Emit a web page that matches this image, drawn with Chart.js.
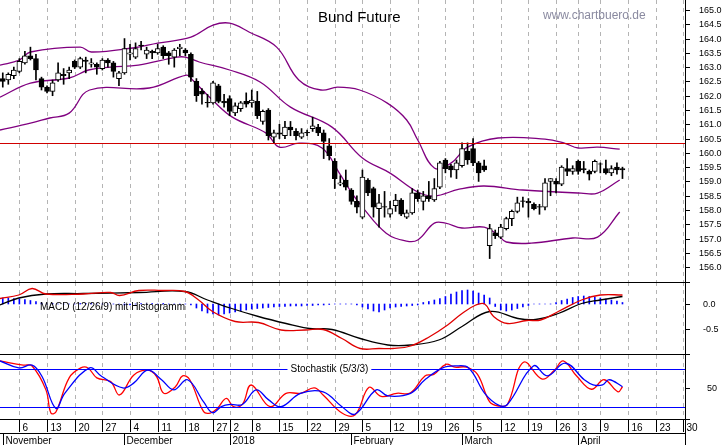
<!DOCTYPE html>
<html><head><meta charset="utf-8">
<script src="https://cdn.jsdelivr.net/npm/chart.js@4"></script>
<style>
body{margin:0;background:#fff;width:723px;height:445px;overflow:hidden;position:relative;font-family:"Liberation Sans",Arial,sans-serif}
canvas{position:absolute;left:0}
.t{position:absolute;white-space:nowrap}
</style></head><body>
<canvas id="c1" style="top:0" width="723" height="282"></canvas>
<canvas id="c2" style="top:282px" width="723" height="73"></canvas>
<canvas id="c3" style="top:355px" width="723" height="90"></canvas>
<div class="t" style="left:318px;top:8px;font-size:15px;color:#000">Bund Future</div>
<div class="t" style="left:543px;top:8px;font-size:12px;color:#8a8aa0">www.chartbuero.de</div>
<div class="t" style="left:40px;top:301px;font-size:10px;color:#000">MACD (12/26/9) mit Histogramm</div>
<script>
// trading-day index 0 = 6 Nov 2017
const startIdx = -3;
const open =  [162.6,162.55,162.7,162.85,163.15,163.4,163.3,162.6,162.3,162.15,162.55,162.75,162.8,163.2,163.0,163.25,163.1,163.1,162.95,163.25,163.15,162.6,162.8,163.45,163.35,163.75,163.45,163.55,163.5,163.7,163.5,163.35,163.65,163.6,163.45,
162.5,162.15,161.75,161.75,162.35,161.8,161.9,161.4,161.55,161.8,161.75,161.8,161.1,161.5,160.55,160.7,160.6,160.9,160.75,160.55,160.7,160.85,160.9,160.7,160.25,
159.7,158.9,159.05,158.7,158.3,157.75,159.05,158.75,158.05,158.1,157.85,158.15,158.35,157.75,157.9,158.6,158.3,158.5,158.35,158.8,159.75,159.55,159.4,159.55,160.05,160.15,159.65,159.55,
156.75,157.2,157.05,157.35,157.7,157.95,158.3,158.3,158.2,158.1,158.1,159.0,159.0,158.9,159.45,159.35,159.7,159.45,159.35,159.35,159.6,159.45,159.3,159.5,159.45];
const high =  [162.8,162.8,163.0,163.3,163.55,163.7,163.45,162.65,162.35,162.55,163.15,162.95,163.0,163.25,163.35,163.35,163.3,163.15,163.3,163.3,163.2,162.85,164.0,163.8,163.85,163.9,163.7,163.6,163.8,163.75,163.55,163.65,163.8,163.65,163.5,
162.6,162.25,162.05,162.5,162.4,162.05,162.0,161.75,161.8,162.1,162.2,162.15,161.5,161.55,160.8,161.0,161.1,161.1,160.85,160.85,160.8,161.25,161.0,160.8,160.5,
159.8,159.2,159.4,158.75,158.5,159.4,159.1,158.8,158.55,158.65,158.3,158.55,158.4,158.0,158.75,158.7,158.65,159.0,159.1,159.7,159.8,159.6,159.75,160.35,160.35,160.5,159.7,159.75,
157.5,157.3,157.5,157.75,158.0,158.45,158.45,158.4,158.25,158.2,159.1,159.1,159.1,159.55,159.8,159.55,159.75,159.7,159.4,159.75,159.65,159.75,159.55,159.65,159.5];
const low =   [162.3,162.4,162.6,162.8,163.1,163.25,162.55,162.2,162.1,162.0,162.5,162.4,162.6,162.95,162.95,162.8,163.0,162.75,162.9,163.0,162.65,162.35,162.75,163.25,163.3,163.6,163.3,163.3,163.45,163.3,163.1,163.0,163.4,163.4,162.5,
161.8,161.7,161.6,161.7,161.75,161.6,161.3,161.3,161.45,161.6,161.6,161.2,161.0,160.45,160.35,160.5,160.5,160.6,160.45,160.5,160.6,160.75,160.6,159.8,159.75,
158.75,158.85,158.7,158.2,157.9,157.7,158.5,157.75,157.4,157.75,157.75,157.95,157.8,157.7,157.85,158.3,158.0,158.3,158.3,158.75,159.3,159.15,159.1,159.5,159.6,159.55,159.0,159.35,
156.3,157.0,157.0,157.3,157.45,157.9,158.1,157.75,158.0,157.85,158.0,158.5,158.6,158.85,159.2,159.25,159.25,159.3,159.05,159.3,159.3,159.25,159.2,159.25,159.1];
const close = [162.5,162.75,162.9,163.2,163.4,163.3,162.9,162.3,162.15,162.45,162.8,162.7,162.9,163.0,163.3,163.2,163.15,163.0,163.25,163.15,162.85,162.8,163.65,163.5,163.65,163.75,163.6,163.5,163.65,163.4,163.4,163.6,163.7,163.5,162.65,
162.0,162.05,161.75,162.45,161.8,161.75,161.45,161.65,161.75,161.7,161.85,161.3,161.45,160.6,160.7,160.65,160.9,160.8,160.6,160.7,160.7,160.95,160.7,160.4,159.9,
159.1,158.95,158.8,158.3,158.1,159.15,158.6,158.1,158.25,158.1,158.05,158.35,157.85,157.9,158.6,158.4,158.5,158.4,158.75,159.65,159.45,159.4,159.65,160.15,159.75,159.65,159.3,159.4,
157.35,157.1,157.4,157.7,157.95,158.25,158.3,158.25,158.05,158.1,158.95,159.1,158.9,159.5,159.35,159.45,159.35,159.4,159.25,159.7,159.6,159.3,159.45,159.4,159.4];

const upperBand = [[-3.5,163.07],[0,163.25],[2,163.53],[11,163.7],[13,163.53],[20.5,163.67],[25,163.84],[31,164.05],[35,164.47],[38,164.54],[41.5,164.23],[46.5,163.7],[50.5,162.55],[54.5,162.2],[57.5,162.3],[61.5,162.2],[66.5,161.74],[70,161.15],[72,160.45],[75,159.47],[78,159.64],[81,160.2],[86.5,160.52],[95,160.48],[98.5,160.34],[101,160.17],[104.5,160.2],[108.5,160.13]];
const middleBand = [[-3.5,161.95],[2,162.44],[9,162.62],[12.5,162.9],[16.5,163.0],[21.5,163.07],[28.5,163.35],[30,163.35],[32.5,163.18],[38,162.9],[43.5,162.48],[49,161.6],[56.5,160.9],[62,159.82],[67,159.29],[72,158.63],[75,158.49],[79.5,158.73],[84,158.84],[91,158.7],[101.5,158.59],[104.5,158.59],[108.5,159.05]];
const lowerBand = [[-3.5,160.8],[2,161.04],[5.5,161.22],[9,161.39],[12.7,162.2],[23.5,162.27],[30.2,162.72],[31.3,162.55],[34.9,161.85],[38.5,161.25],[44.6,160.69],[47,160.2],[50.6,160.34],[54.7,160.17],[57.8,159.3],[60.1,158.59],[62,158.1],[66.3,157.19],[70,156.91],[72,156.95],[75,157.54],[77,157.54],[80,157.37],[84,157.4],[86.5,157.12],[88,156.88],[92.5,156.84],[100,157.02],[104.5,157.05],[108.5,157.93]];
const resistance = 160.33;

const macdLine = [[-3.5,0.11],[-0.1,0.18],[2.3,0.31],[4.8,0.2],[11.5,0.2],[16.5,0.23],[18.1,0.17],[21.6,0.27],[25.7,0.27],[29.9,0.25],[32.4,0.08],[34.9,-0.15],[39,-0.35],[43.2,-0.37],[47.3,-0.52],[51.7,-0.52],[54.9,-0.51],[58.3,-0.69],[61.6,-0.89],[65,-0.89],[67.5,-0.89],[70.7,-0.84],[74.2,-0.65],[77.4,-0.42],[80,-0.19],[82.5,-0.02],[84.1,0.0],[85.7,-0.25],[88.2,-0.39],[91.7,-0.33],[94.2,-0.32],[97.4,-0.15],[101.6,0.08],[105,0.18],[109,0.18]];
const signalLine = [[-3.5,-0.02],[-0.1,0.12],[4.8,0.2],[11.5,0.21],[21.6,0.23],[29.9,0.25],[34,0.08],[38.1,-0.08],[43.2,-0.25],[48.2,-0.39],[52.4,-0.49],[56.5,-0.51],[61.6,-0.69],[66.6,-0.82],[70.7,-0.82],[75.8,-0.72],[80,-0.45],[85,-0.15],[90.1,-0.29],[93.3,-0.31],[97.4,-0.19],[101.6,0.01],[105,0.08],[109,0.15]];
const macdHist = [0.12,0.12,0.11,0.1,0.09,0.07,0.05,0.02,
0,0.01,0,0,0,0,0.01,0.01,0.01,0,0,0,0,0,-0.02,-0.02,0,0.01,0,0.01,0,0.01,0,0,0,0,
-0.02,-0.08,-0.14,-0.18,-0.2,-0.22,-0.2,-0.18,-0.16,-0.14,-0.12,-0.1,-0.09,-0.08,-0.07,
-0.06,-0.05,-0.05,-0.04,-0.04,-0.04,-0.03,-0.03,-0.02,-0.02,-0.01,
0,0,0,0,
-0.02,-0.06,-0.1,-0.14,-0.16,-0.12,-0.08,-0.06,-0.05,-0.04,-0.03,-0.02,
0.03,0.05,0.08,0.11,0.15,0.2,0.24,
0.27,0.28,0.26,0.22,0.18,0.12,
-0.05,-0.12,-0.14,-0.12,-0.09,-0.06,-0.03,
0,0,0,0,0.03,
0.07,0.1,0.13,0.15,0.16,0.15,0.14,0.12,0.1,0.08,0.06,0.03];

const stochK = [[-3.5,92.6],[0.7,86],[2.3,84.7],[4.8,47],[5.7,10.5],[6.6,12],[9,66],[11.1,81.6],[12.4,81.6],[14,66],[16.5,60],[18.1,39],[20.7,70.5],[23.2,78],[24.8,68],[26.1,41.6],[28.2,52],[29.5,69],[30.8,63],[33.3,12.6],[34.5,10.5],[35.8,18],[37.4,33.7],[38.7,20.5],[40.3,24],[41.9,54.7],[45.3,20.5],[48.2,41.6],[50.8,41.6],[53.3,50],[54.9,39],[58.3,10.5],[60.7,7.8],[63.2,51],[65.4,36.8],[68.2,41.6],[70.7,42.5],[73.3,69],[74.9,71.5],[77.1,87.3],[78.7,82.8],[80.8,82.8],[82.8,71.5],[85,28],[86.6,21.6],[88.2,24],[91.1,90.5],[94.5,64],[96.7,78],[98.3,92.6],[100.8,68],[103.4,48],[105.7,63],[108.2,44],[109,52]];
const stochD = [[-3.5,92.6],[-0.1,81.6],[2.3,86],[4.1,68],[6.6,17.8],[8.2,41.6],[12.7,81.6],[14.9,68],[18.7,50],[20.7,58],[23.2,78],[25.7,63],[27.9,47],[30.4,63],[33.3,28],[34.9,11],[36.5,20.5],[38.1,24],[40.3,24],[42.8,47],[45,31.6],[47.3,20.5],[50.8,41.6],[54.9,44],[58.3,20.5],[60.7,8.9],[64.5,47],[66.6,37.4],[70.7,41.6],[73.3,63],[76.5,81.6],[78.7,84.7],[81.2,81.6],[84.1,41.6],[86.6,23],[88.2,24],[92.9,84.7],[95.4,69],[98.7,89],[102.1,63],[103.7,55],[105.4,55],[106.6,63],[109,52]];

const weekIdx = [0,5,10,15,20,25,30,35,38,42,47,52,57,62,67,72,77,82,87,92,97,101,105,110,115,120];
const weekLabels = ["6","13","20","27","4","11","18","27","2","8","15","22","29","5","12","19","26","5","12","19","26","3","9","16","23","30"];
const monthIdx = [-3,19,38,60,80,101];
const monthLabels = ["November","December","2018","February","March","April"];
const priceTicks = [156,156.5,157,157.5,158,158.5,159,159.5,160,160.5,161,161.5,162,162.5,163,163.5,164,164.5,165];

const XMIN=-3.5, XMAX=120.3;
const FONTF='"Liberation Sans",Arial,sans-serif';
Chart.defaults.animation=false;
const pts = a => a.map(p=>({x:p[0],y:p[1]}));
const idxs = open.map((_,i)=>i+startIdx);

const xScale = {type:'linear',min:XMIN,max:XMAX,display:false,offset:false};
const yScale = (min,max)=>({type:'linear',min,max,display:false});
const baseOpts = (pad,ymin,ymax)=>({responsive:false,layout:{padding:pad},
  plugins:{legend:{display:false},tooltip:{enabled:false}},scales:{x:xScale,y:yScale(ymin,ymax)}});

const deco = (id,opt)=>({id,
 beforeDatasetsDraw(c){const {ctx,chartArea:ca,scales:{x}}=c;ctx.save();
  ctx.strokeStyle='#b4b4b4';ctx.lineWidth=1;ctx.setLineDash([4,4]);
  weekIdx.forEach(v=>{const px=Math.round(x.getPixelForValue(v))+0.5;ctx.beginPath();ctx.moveTo(px,ca.top);ctx.lineTo(px,ca.bottom);ctx.stroke();});
  ctx.restore();},
 afterDatasetsDraw(c){const {ctx,chartArea:ca,scales:{x,y}}=c;ctx.save();
  (opt.hlines||[]).forEach(v=>{const py=Math.round(y.getPixelForValue(v.y))+0.5;ctx.strokeStyle=v.color;ctx.lineWidth=1;ctx.beginPath();ctx.moveTo(ca.left,py);ctx.lineTo(ca.right,py);ctx.stroke();
    if(v.label){ctx.font='10px '+FONTF;const w=ctx.measureText(v.label).width;const lx=x.getPixelForValue(v.lx);ctx.fillStyle='#fff';ctx.fillRect(lx-3,py-6,w+6,12);ctx.fillStyle='#000';ctx.textBaseline='middle';ctx.fillText(v.label,lx,py);}});
  ctx.strokeStyle='#000';ctx.lineWidth=1;ctx.beginPath();
  ctx.moveTo(ca.right+0.5,0);ctx.lineTo(ca.right+0.5,c.height);
  if(opt.top){ctx.moveTo(0,ca.top+0.5);ctx.lineTo(ca.right+5,ca.top+0.5);}
  if(opt.bottom){ctx.moveTo(0,ca.bottom-0.5);ctx.lineTo(ca.right+5,ca.bottom-0.5);}
  ctx.stroke();
  ctx.font='9px '+FONTF;ctx.fillStyle='#000';ctx.textBaseline='middle';ctx.textAlign='left';
  opt.yticks.forEach(v=>{const py=Math.round(y.getPixelForValue(v))+0.5;ctx.beginPath();ctx.moveTo(ca.right,py);ctx.lineTo(ca.right+5,py);ctx.stroke();ctx.fillText(opt.fmt(v),ca.right+(opt.lx||14),py);});
  if(opt.dates){
    ctx.font='10px '+FONTF;
    const y0=ca.bottom;ctx.textBaseline='top';
    ctx.strokeStyle='#000';
    weekIdx.forEach((v,i)=>{const px=Math.round(x.getPixelForValue(v))+0.5;
      ctx.beginPath();ctx.moveTo(px,y0);ctx.lineTo(px,y0+12);ctx.stroke();
      ctx.fillText(weekLabels[i],px+3,y0+3);});
    ctx.beginPath();ctx.moveTo(0,y0+13.5);ctx.lineTo(ca.right,y0+13.5);ctx.stroke();
    monthIdx.forEach((v,i)=>{const px=Math.round(x.getPixelForValue(v))+0.5;
      ctx.beginPath();ctx.moveTo(px,y0+14);ctx.lineTo(px,c.height);ctx.stroke();
      ctx.fillText(monthLabels[i],px+2,y0+16);});
  }
  ctx.restore();}});

new Chart(document.getElementById('c1'),{
  data:{datasets:[
    {type:'line',data:pts(upperBand),borderColor:'#800080',borderWidth:1.3,pointRadius:0,tension:0.4,order:3},
    {type:'line',data:pts(middleBand),borderColor:'#800080',borderWidth:1.3,pointRadius:0,tension:0.4,order:3},
    {type:'line',data:pts(lowerBand),borderColor:'#800080',borderWidth:1.3,pointRadius:0,tension:0.4,order:3},
    {type:'bar',data:idxs.map((x,i)=>({x,y:[low[i],high[i]]})),backgroundColor:'#000',barThickness:1,grouped:false,order:2},
    {type:'bar',data:idxs.map((x,i)=>({x,y:[open[i],close[i]===open[i]?close[i]+0.02:close[i]]})),
      backgroundColor:idxs.map((x,i)=>close[i]>open[i]?'#fff':'#000'),borderColor:'#000',borderWidth:1,borderSkipped:false,barThickness:5,grouped:false,order:1}
  ]},
  options:baseOpts({right:38},155.48,165.35),
  plugins:[deco('d1',{hlines:[{y:resistance,color:'#d00000'}],yticks:priceTicks,fmt:v=>v.toFixed(1)})]
});

new Chart(document.getElementById('c2'),{
  data:{datasets:[
    {type:'bar',data:idxs.map((x,i)=>({x,y:[0,macdHist[i]]})),backgroundColor:'#0000ff',barThickness:1,grouped:false,order:3},
    {type:'line',data:pts(signalLine),borderColor:'#000',borderWidth:1.3,pointRadius:0,tension:0.4,order:2},
    {type:'line',data:pts(macdLine),borderColor:'#e00000',borderWidth:1.3,pointRadius:0,tension:0.4,order:1}
  ]},
  options:baseOpts({right:38},-1.02,0.44),
  plugins:[deco('d2',{top:true,bottom:true,yticks:[0,-0.5],fmt:v=>v.toFixed(1),lx:18})]
});

new Chart(document.getElementById('c3'),{
  data:{datasets:[
    {type:'line',data:pts(stochD),borderColor:'#0000ff',borderWidth:1.3,pointRadius:0,tension:0.4},
    {type:'line',data:pts(stochK),borderColor:'#ff0000',borderWidth:1.3,pointRadius:0,tension:0.4}
  ]},
  options:baseOpts({right:38,bottom:25},-0.5,102),
  plugins:[deco('d3',{bottom:true,dates:true,yticks:[50],fmt:v=>String(v),lx:22,
    hlines:[{y:80,color:'#0000ff',label:'Stochastik (5/3/3)',lx:49},{y:20,color:'#0000ff'}]})]
});
</script>
</body></html>
